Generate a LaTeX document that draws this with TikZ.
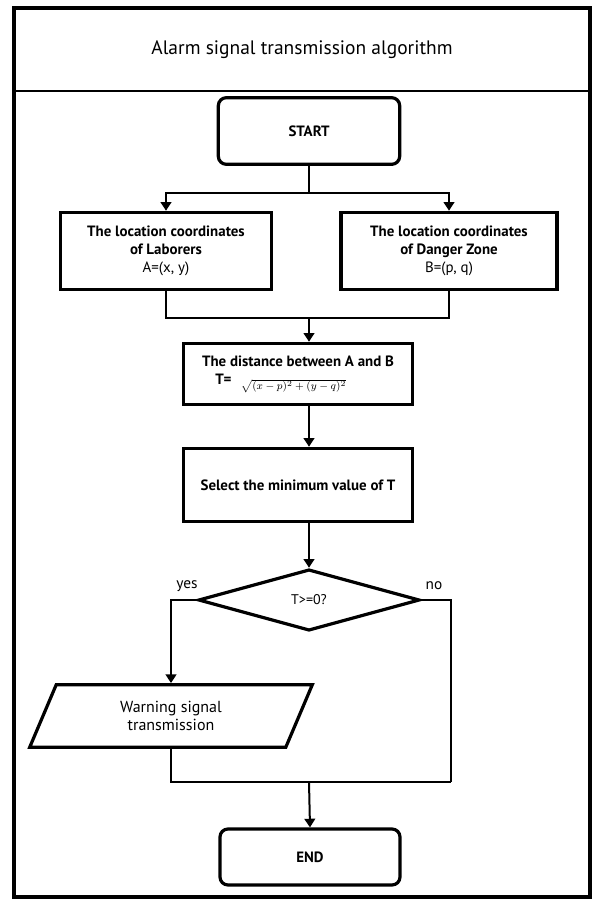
\documentclass[tikz,border=0pt]{standalone}
\usepackage{amsmath}
\usepackage{fontspec}
\setmainfont{PT Sans}
\usetikzlibrary{arrows.meta,shapes.geometric}

\begin{document}
\begin{tikzpicture}[x=0.75pt,y=-0.75pt,
  box/.style={draw, line width=2.4pt, align=center, inner sep=0pt, font=\bfseries\fontsize{11.2}{13.5}\selectfont},
  term/.style={box, rounded corners=6pt},
  wire/.style={line width=1.5pt},
  flow/.style={wire, -{Triangle[width=8pt,length=6.5pt]}}]
  \useasboundingbox (0,0) rectangle (603,910);
  % Frame and title
  \draw[line width=2.4pt] (14,8) rectangle (590,897);
  \draw[line width=1.6pt] (14,91) -- (590,91);
  \node[font=\fontsize{14.6}{16}\selectfont] (title) at (302,50) {Alarm signal transmission algorithm};
  % Terminals
  \node[term, minimum width=136pt, minimum height=50pt] (start) at (309,131) {START};
  \node[term, minimum width=135pt, minimum height=42pt] (finish) at (310,857) {END};
  % Input boxes
  \node[box, minimum width=158pt, minimum height=58pt] (laborer) at (166,251)
    {The location coordinates\\of Laborers\\{\mdseries A=(x, y)}};
  \node[box, minimum width=162pt, minimum height=58pt] (danger) at (449,251)
    {The location coordinates\\of Danger Zone\\{\mdseries B=(p, q)}};
  % Processing boxes
  \node[box, minimum width=172pt, minimum height=46pt] (dist) at (298,374)
    {The distance between A and B\\\hspace*{-26pt}T=\hspace{7pt}\raisebox{-4pt}{\mdseries\footnotesize$\sqrt{(x-p)^2+(y-q)^2}$}};
  \node[box, minimum width=172pt, minimum height=55pt] (select) at (298,485)
    {Select the minimum value of T};
  % Decision and output
  \node[box, diamond, minimum width=166pt, minimum height=46pt, font=\fontsize{10.5}{12}\selectfont] (check) at (309,600) {T>=0?};
  \node[box, trapezium, trapezium left angle=48, trapezium right angle=132, trapezium stretches body,
    minimum width=212pt, minimum height=47pt, font=\fontsize{12}{13.5}\selectfont] (warn) at (171,716)
    {Warning signal\\transmission};
  \node[font=\fontsize{11.5}{13}\selectfont] (yes) at (187,586) {yes};
  \node[font=\fontsize{11.5}{13}\selectfont] (no) at (434,586) {no};
  % Junction points
  \coordinate (split) at (309,193);
  \coordinate (join) at (309,318);
  \coordinate (nocorner) at (451,782);
  \coordinate (endjoin) at (309,782);
  % Connectors
  \draw[flow] (start.south) |- (split -| laborer) -- (laborer.north);
  \draw[flow] (split) -| (danger.north);
  \draw[wire] (laborer.south) |- (join);
  \draw[wire] (danger.south) |- (join);
  \draw[flow] (join) -- (join |- dist.north);
  \draw[flow] (join |- dist.south) -- (join |- select.north);
  \draw[flow] (join |- select.south) -- (check.north);
  \draw[flow] (check.west) -| (warn.north);
  \draw[line width=1.2pt] (check.east) -| (nocorner);
  \draw[wire] (warn.south) |- (nocorner);
  \draw[flow] (endjoin) -- (finish.north);
\end{tikzpicture}
\end{document}
